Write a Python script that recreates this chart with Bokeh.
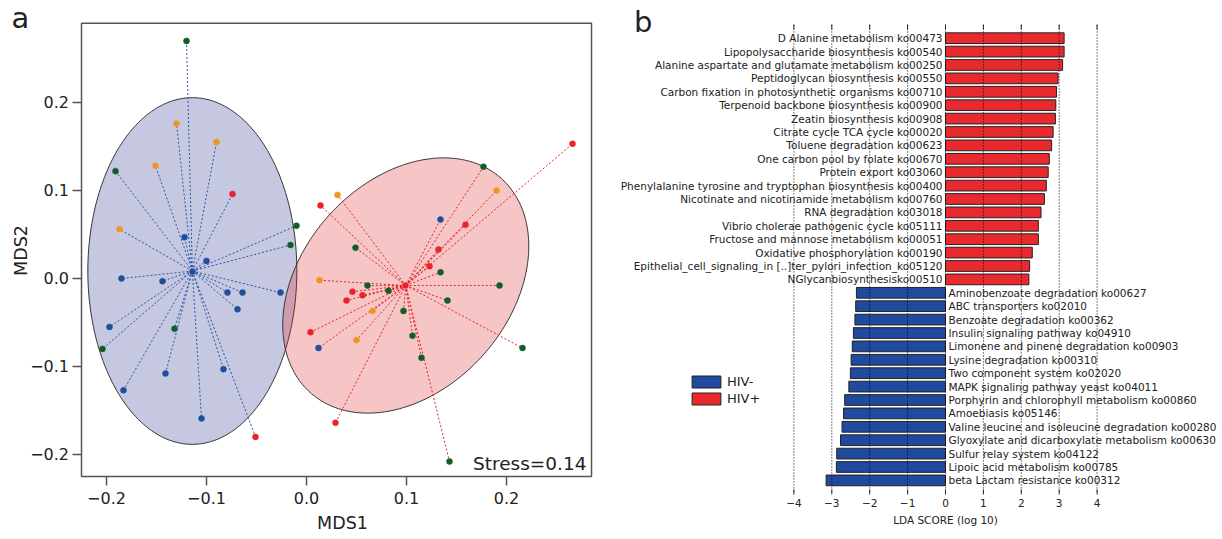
import numpy as np
from bokeh.plotting import figure
from bokeh.models import Range1d, Legend, LegendItem
from bokeh.layouts import row
from bokeh.core.properties import value
from bokeh.embed import file_html
from bokeh.resources import INLINE

FONT = "DejaVu Sans"
TXT = "#222222"
MINUS = "\u2212"

# ---------------- Panel a: NMDS ordination ----------------
hivneg_mds1 = [-0.120, -0.130, -0.090, -0.151, -0.191, -0.074, -0.187, -0.010, -0.016,
               -0.122, -0.100, -0.114, -0.185, -0.144, -0.079, -0.064, -0.026, -0.069,
               -0.197, -0.132, -0.204, -0.141, -0.083, -0.183, -0.105, -0.051]
hivneg_mds2 = [0.270, 0.176, 0.155, 0.128, 0.122, 0.096, 0.056, 0.060, 0.038,
               0.047, 0.020, 0.008, 0.000, -0.003, -0.016, -0.016, -0.016, -0.035,
               -0.055, -0.057, -0.080, -0.108, -0.103, -0.127, -0.159, -0.180]
hivneg_cohort = ["G", "O", "O", "O", "G", "R", "O", "G", "G",
                 "B", "B", "B", "B", "B", "B", "B", "B", "B",
                 "B", "G", "G", "B", "B", "B", "B", "R"]

hivpos_mds1 = [0.266, 0.177, 0.190, 0.031, 0.014, 0.134, 0.159, 0.049, 0.132, 0.123,
               0.134, 0.013, 0.061, 0.046, 0.056, 0.082, 0.099, 0.193, 0.141, 0.040,
               0.066, 0.097, 0.004, 0.050, 0.106, 0.012, 0.115, 0.216, 0.029, 0.143]
hivpos_mds2 = [0.153, 0.127, 0.100, 0.095, 0.083, 0.067, 0.061, 0.035, 0.033, 0.014,
               0.007, -0.002, -0.008, -0.015, -0.019, -0.014, -0.008, -0.008, -0.025, -0.025,
               -0.037, -0.037, -0.061, -0.070, -0.065, -0.079, -0.090, -0.079, -0.164, -0.208]
hivpos_cohort = ["R", "G", "O", "O", "R", "B", "R", "G", "R", "R",
                 "G", "O", "G", "R", "R", "G", "R", "G", "G", "R",
                 "O", "G", "R", "O", "G", "B", "G", "G", "R", "G"]

# ellipse shape matrices (MDS1/MDS2 units)
hivneg_ellipse_shape = [[0.01092, 0.0], [0.0, 0.0388]]
hivpos_ellipse_shape = [[0.01513, 0.00551], [0.00551, 0.02103]]
stress_value = 0.14
mds_ticks = [-0.2, -0.1, 0.0, 0.1, 0.2]
mds1_limits = [-0.225, 0.285]
mds2_limits = [-0.225, 0.29]

# ---------------- Panel b: LEfSe LDA ----------------
hivpos_pathways = [
    "D Alanine metabolism ko00473",
    "Lipopolysaccharide biosynthesis ko00540",
    "Alanine aspartate and glutamate metabolism ko00250",
    "Peptidoglycan biosynthesis ko00550",
    "Carbon fixation in photosynthetic organisms ko00710",
    "Terpenoid backbone biosynthesis ko00900",
    "Zeatin biosynthesis ko00908",
    "Citrate cycle TCA cycle ko00020",
    "Toluene degradation ko00623",
    "One carbon pool by folate ko00670",
    "Protein export ko03060",
    "Phenylalanine tyrosine and tryptophan biosynthesis ko00400",
    "Nicotinate and nicotinamide metabolism ko00760",
    "RNA degradation ko03018",
    "Vibrio cholerae pathogenic cycle ko05111",
    "Fructose and mannose metabolism ko00051",
    "Oxidative phosphorylation ko00190",
    "Epithelial_cell_signaling_in [..]ter_pylori_infection_ko05120",
    "NGlycanbiosynthesisko00510",
]
hivpos_lda = [3.13, 3.13, 3.09, 2.97, 2.93, 2.91, 2.90, 2.84, 2.80, 2.74,
              2.71, 2.66, 2.61, 2.52, 2.45, 2.45, 2.29, 2.22, 2.20]
hivneg_pathways = [
    "Aminobenzoate degradation ko00627",
    "ABC transporters ko02010",
    "Benzoate degradation ko00362",
    "Insulin signaling pathway ko04910",
    "Limonene and pinene degradation ko00903",
    "Lysine degradation ko00310",
    "Two component system ko02020",
    "MAPK signaling pathway yeast ko04011",
    "Porphyrin and chlorophyll metabolism ko00860",
    "Amoebiasis ko05146",
    "Valine leucine and isoleucine degradation ko00280",
    "Glyoxylate and dicarboxylate metabolism ko00630",
    "Sulfur relay system ko04122",
    "Lipoic acid metabolism ko00785",
    "beta Lactam resistance ko00312",
]
hivneg_lda = [2.35, 2.37, 2.39, 2.43, 2.46, 2.49, 2.51, 2.55, 2.66, 2.69,
              2.73, 2.77, 2.87, 2.88, 3.15]
lda_ticks = [-4, -3, -2, -1, 0, 1, 2, 3, 4]

# ---------------- styles ----------------
cohort_colors = {"B": "#1f4e9e", "G": "#0e5e26", "O": "#f29422", "R": "#e8232b"}
NEG_LINE = "#2a56a8"
POS_LINE = "#e8232b"
NEG_BAR = "#1f4a9e"
POS_BAR = "#e82a2f"
AX = "#555555"


def ellipse_outline(cx, cy, shape):
    L = np.linalg.cholesky(np.array(shape))
    t = np.linspace(0, 2 * np.pi, 361)
    pts = L @ np.vstack([np.cos(t), np.sin(t)])
    return cx + pts[0], cy + pts[1]


def fmt(v, nd):
    return ("%.*f" % (nd, v)).replace("-", MINUS)


# ================= panel a =================
pa = figure(width=608, height=539, x_range=Range1d(-0.306, 0.302),
            y_range=Range1d(-0.2966, 0.3159), output_backend="svg",
            toolbar_location=None, x_axis_location=None, y_axis_location=None,
            min_border=0)
pa.grid.visible = False
pa.outline_line_color = None

groups = [
    (hivneg_mds1, hivneg_mds2, hivneg_cohort, hivneg_ellipse_shape, "#28328c", NEG_LINE),
    (hivpos_mds1, hivpos_mds2, hivpos_cohort, hivpos_ellipse_shape, "#dc2828", POS_LINE),
]
for xs, ys, coh, shape, fc, _ in groups:
    cx, cy = float(np.mean(xs)), float(np.mean(ys))
    ex, ey = ellipse_outline(cx, cy, shape)
    pa.patch(ex, ey, fill_color=fc, fill_alpha=0.27, line_color="#333333", line_width=1)
for xs, ys, coh, shape, _, lc in groups:
    cx, cy = float(np.mean(xs)), float(np.mean(ys))
    pa.segment(x0=[cx] * len(xs), y0=[cy] * len(ys), x1=xs, y1=ys,
               line_color=lc, line_width=1, line_dash="2 2")
for xs, ys, coh, shape, _, lc in groups:
    cols = [cohort_colors[c] for c in coh]
    pa.scatter(xs, ys, size=6, fill_color=cols, line_color=cols, line_width=0.5)

# plot box
x0, x1 = mds1_limits
y0, y1 = mds2_limits
pa.quad(left=x0, right=x1, bottom=y0, top=y1, fill_color=None,
        line_color=AX, line_width=1.5)
# ticks
tk_y = 0.0102   # tick length in MDS2 units
tk_x = 0.009    # tick length in MDS1 units
pa.segment(x0=mds_ticks, y0=[y0] * 5, x1=mds_ticks, y1=[y0 - tk_y] * 5,
           line_color=AX, line_width=1.5)
pa.segment(x0=[x0] * 5, y0=mds_ticks, x1=[x0 - tk_x] * 5, y1=mds_ticks,
           line_color=AX, line_width=1.5)
pa.text(x=mds_ticks, y=[y0 - 0.0239] * 5, text=[fmt(t, 1) for t in mds_ticks],
        text_align="center", text_baseline="middle", text_font=value(FONT),
        text_font_size="16px", text_color=TXT)
pa.text(x=[x0 - 0.0125] * 5, y=mds_ticks, text=[fmt(t, 1) for t in mds_ticks],
        text_align="right", text_baseline="middle", text_font=value(FONT),
        text_font_size="16px", text_color=TXT)
pa.text(x=[0.036], y=[-0.2784], text=["MDS1"], text_align="center",
        text_baseline="middle", text_font=value(FONT), text_font_size="17.5px",
        text_color=TXT)
pa.text(x=[-0.286], y=[0.0318], text=["MDS2"], angle=np.pi / 2, text_align="center",
        text_baseline="middle", text_font=value(FONT), text_font_size="17.5px",
        text_color=TXT)
pa.text(x=[0.280], y=[-0.2098], text=["Stress=%.2f" % stress_value],
        text_align="right", text_baseline="middle", text_font=value(FONT),
        text_font_size="18.5px", text_color=TXT)
pa.text(x=[-0.295], y=[0.2958], text=["a"], text_align="left",
        text_baseline="middle", text_font=value(FONT), text_font_size="29px",
        text_color=TXT)

# ================= panel b =================
n_pos = len(hivpos_lda)
n_neg = len(hivneg_lda)
n_all = n_pos + n_neg
y_pos = list(range(n_pos))
y_neg = list(range(n_pos, n_all))
grid_top = -0.95
grid_bottom = n_all - 1 + 0.83

pb = figure(width=614, height=539, x_range=Range1d(-8.892, 7.309),
            y_range=Range1d(37.41, -2.813), output_backend="svg",
            toolbar_location=None, x_axis_location=None, y_axis_location=None,
            min_border=0)
pb.grid.visible = False
pb.outline_line_color = None

neg_r = pb.hbar(y=y_neg, left=[-v for v in hivneg_lda], right=0, height=0.8,
                fill_color=NEG_BAR, line_color="#222222", line_width=1)
pos_r = pb.hbar(y=y_pos, left=0, right=hivpos_lda, height=0.8,
                fill_color=POS_BAR, line_color="#222222", line_width=1)

nt = len(lda_ticks)
pb.segment(x0=lda_ticks, y0=[grid_top] * nt, x1=lda_ticks, y1=[grid_bottom] * nt,
           line_color="black", line_width=1, line_dash="1 2")
pb.segment(x0=lda_ticks, y0=[grid_top - 0.08] * nt, x1=lda_ticks,
           y1=[grid_top + 0.3] * nt, line_color="#222222", line_width=1)
pb.segment(x0=lda_ticks, y0=[grid_bottom - 0.15] * nt, x1=lda_ticks,
           y1=[grid_bottom + 0.22] * nt, line_color="#222222", line_width=1)
pb.text(x=lda_ticks, y=[grid_bottom + 0.89] * nt, text=[fmt(t, 0) for t in lda_ticks],
        text_align="center", text_baseline="middle", text_font=value(FONT),
        text_font_size="10.5px", text_color=TXT)
pb.text(x=[0], y=[grid_bottom + 2.09], text=["LDA SCORE (log 10)"],
        text_align="center", text_baseline="middle", text_font=value(FONT),
        text_font_size="10.5px", text_color=TXT)

pb.text(x=0, y=y_pos, text=hivpos_pathways, x_offset=-3, text_align="right",
        text_baseline="middle", text_font=value(FONT), text_font_size="10.5px",
        text_color=TXT)
pb.text(x=0, y=y_neg, text=hivneg_pathways, x_offset=3, text_align="left",
        text_baseline="middle", text_font=value(FONT), text_font_size="10.5px",
        text_color=TXT)

pb.text(x=[-8.22], y=[-1.239], text=["b"], text_align="left",
        text_baseline="middle", text_font=value(FONT), text_font_size="29px",
        text_color=TXT)

legend = Legend(items=[LegendItem(label="HIV-", renderers=[neg_r]),
                       LegendItem(label="HIV+", renderers=[pos_r])],
                location=(80, 133), glyph_width=36, glyph_height=15,
                label_height=15, label_standoff=3, spacing=2, padding=0, margin=0,
                label_text_font=FONT, label_text_font_size="13px",
                label_text_color=TXT, border_line_color=None,
                background_fill_alpha=0)
pb.add_layout(legend)

layout = row(pa, pb)
open("out.html", "w").write(file_html(layout, INLINE))
